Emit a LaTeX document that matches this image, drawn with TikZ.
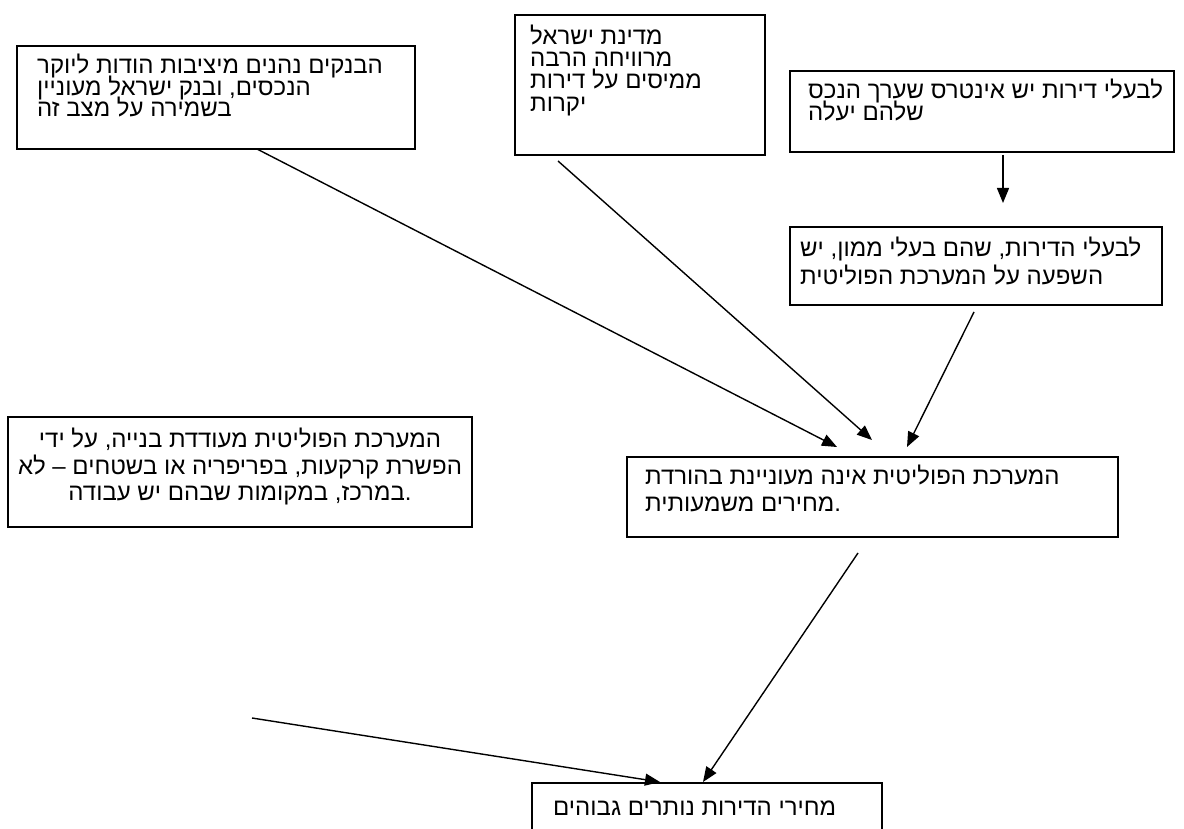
\documentclass[tikz,border=0pt]{standalone}
\usepackage{fontspec}
\setmainfont{Liberation Sans}[Script=Hebrew]
\TeXXeTstate=1
\usetikzlibrary{arrows.meta}
\begin{document}
\begin{tikzpicture}[x=1pt,y=-1pt,
  box/.style={draw=black, line width=1.8pt},
  hw/.style={anchor=base west, inner sep=0pt, font=\fontsize{24}{26}\selectfont},
  hc/.style={anchor=base, inner sep=0pt, font=\fontsize{24}{26}\selectfont},
  arr/.style={draw=black, line width=1.4pt, -{Triangle[length=15pt,width=12pt]}}]
\useasboundingbox (0,0) rectangle (1184,829);
% boxes
\draw[box] (17,46) rectangle (415,149);
\draw[box] (515,15) rectangle (765,155);
\draw[box] (790,71) rectangle (1174,152);
\draw[box] (790,227) rectangle (1162,305);
\draw[box] (8,417) rectangle (472,527);
\draw[box] (627,457) rectangle (1118,537);
\draw[box] (532,840) -- (532,783) -- (882,783) -- (882,840);
% box A
\node[hw] (a1) at (37,74) {\beginR הבנקים נהנים מיציבות הודות ליוקר\endR};
\node[hw] (a2) at (37,95.5) {\beginR הנכסים, ובנק ישראל מעוניין\endR};
\node[hw] (a3) at (37,117) {\beginR בשמירה על מצב זה\endR};
% box B
\node[hw] (b1) at (530,45) {\beginR מדינת ישראל\endR};
\node[hw] (b2) at (530,67) {\beginR מרוויחה הרבה\endR};
\node[hw] (b3) at (530,89) {\beginR ממיסים על דירות\endR};
\node[hw] (b4) at (530,112) {\beginR יקרות\endR};
% box C
\node[hw] (c1) at (808,99) {\beginR לבעלי דירות יש אינטרס שערך הנכס\endR};
\node[hw] (c2) at (808,121) {\beginR שלהם יעלה\endR};
% box D
\node[hw] (d1) at (800,257) {\beginR לבעלי הדירות, שהם בעלי ממון, יש\endR};
\node[hw] (d2) at (800,284) {\beginR השפעה על המערכת הפוליטית\endR};
% box E
\node[hc] (e1) at (240,447) {\beginR המערכת הפוליטית מעודדת בנייה, על ידי\endR};
\node[hc] (e2) at (240,474) {\beginR הפשרת קרקעות, בפריפריה או בשטחים – לא\endR};
\node[hc] (e3) at (240,500) {\beginR במרכז, במקומות שבהם יש עבודה\endR.};
% box F
\node[hw] (f1) at (645,484.5) {\beginR המערכת הפוליטית אינה מעוניינת בהורדת\endR};
\node[hw] (f2) at (645,511.5) {\beginR מחירים משמעותית\endR.};
% box G
\node[hw] (g1) at (553,815) {\beginR מחירי הדירות נותרים גבוהים\endR};
% connector end points
\coordinate (pa1) at (257,149); \coordinate (pa2) at (837,447);
\coordinate (pb1) at (558,161); \coordinate (pb2) at (872,440);
\coordinate (pc1) at (1003,155); \coordinate (pc2) at (1003,203);
\coordinate (pd1) at (974,312); \coordinate (pd2) at (907,447);
\coordinate (pe1) at (252,718); \coordinate (pe2) at (660,782);
\coordinate (pf1) at (858,553); \coordinate (pf2) at (703,782);
\draw[arr] (pa1) -- (pa2);
\draw[arr] (pb1) -- (pb2);
\draw[arr] (pc1) -- (pc2);
\draw[arr] (pd1) -- (pd2);
\draw[arr] (pe1) -- (pe2);
\draw[arr] (pf1) -- (pf2);
\end{tikzpicture}
\end{document}
